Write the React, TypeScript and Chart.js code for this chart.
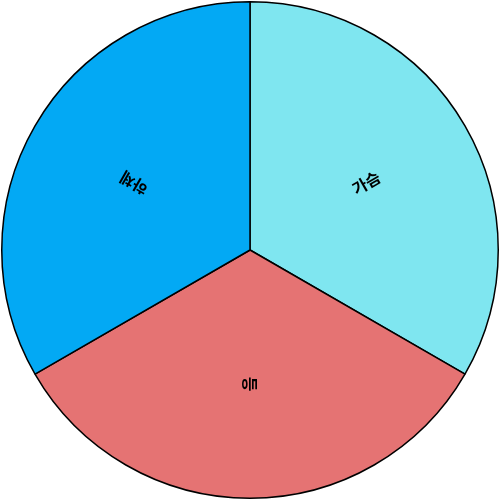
import React, { useEffect, useRef } from "react";
import { Chart, registerables } from "chart.js";

Chart.register(...registerables);

const categories = ["가슴", "등", "하체"];
const values = [1, 1, 1];
const colors = ["#7FE6F0", "#E57373", "#03A9F4"];

const labelPlugin = {
  id: "sliceLabels",
  afterDatasetsDraw(chart: any) {
    const ctx = chart.ctx;
    const meta = chart.getDatasetMeta(0);
    meta.data.forEach((arc: any, i: number) => {
      const { x, y, startAngle, endAngle, outerRadius } = arc.getProps(
        ["x", "y", "startAngle", "endAngle", "outerRadius"],
        true
      );
      const mid = (startAngle + endAngle) / 2;
      const r = outerRadius * 0.54;
      const px = x + Math.cos(mid) * r;
      const py = y + Math.sin(mid) * r;
      ctx.save();
      ctx.translate(px, py);
      ctx.rotate(mid);
      ctx.fillStyle = "#000";
      ctx.font = "bold 16px 'Noto Sans CJK KR', sans-serif";
      ctx.textAlign = "center";
      ctx.textBaseline = "middle";
      ctx.fillText(categories[i], 0, 0);
      ctx.restore();
    });
  },
};

export default function App() {
  const ref = useRef<HTMLCanvasElement>(null);
  useEffect(() => {
    document.body.style.margin = "0";
    const chart = new Chart(ref.current!, {
      type: "pie",
      data: {
        labels: categories,
        datasets: [
          {
            data: values,
            backgroundColor: colors,
            borderColor: "#000",
            borderWidth: 1.5,
          },
        ],
      },
      options: {
        responsive: false,
        animation: false,
        plugins: { legend: { display: false }, tooltip: { enabled: false } },
        layout: { padding: 1 },
      },
      plugins: [labelPlugin],
    });
    return () => chart.destroy();
  }, []);
  return <canvas ref={ref} width={500} height={500} style={{ display: "block" }} />;
}
